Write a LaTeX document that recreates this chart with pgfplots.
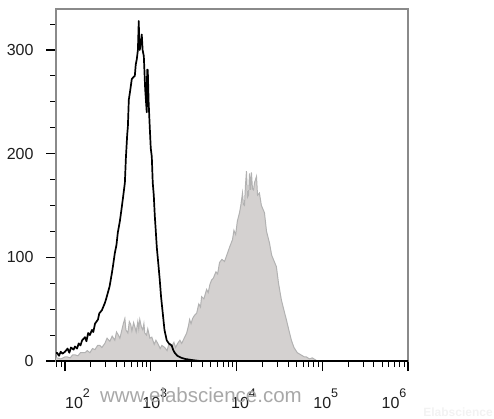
\documentclass[border=0pt]{standalone}
\usepackage{pgfplots}
\pgfplotsset{compat=1.18}
\usepackage{pgfplotstable}
\usepackage{fontspec}
\setmainfont{Liberation Sans}
\definecolor{histfill}{HTML}{D4D1D0}
\definecolor{histline}{HTML}{B2B2B2}
\definecolor{framegray}{HTML}{8A8A8A}
\definecolor{wm}{HTML}{A8A8A8}
\definecolor{lab}{HTML}{1E1E1E}
\newcommand{\pw}[1]{10\raisebox{11pt}{\fontsize{12.5}{13}\selectfont #1}}

\pgfplotstableread{
e c
1.85 6
1.907 8
1.93 5
1.95 9
1.97 7
2.0 9
2.03 12
2.05 8
2.07 13
2.10 11
2.116 14
2.14 12
2.16 17
2.18 15
2.20 20
2.233 23
2.25 19
2.27 27
2.29 25
2.314 30
2.33 28
2.35 36
2.384 40
2.40 46
2.43 49
2.465 56
2.48 60
2.50 66
2.52 72
2.547 85
2.56 92
2.581 104
2.60 112
2.616 124
2.64 135
2.663 149
2.68 160
2.698 172
2.71 196
2.725 218
2.733 226
2.744 252
2.755 258
2.779 272
2.80 274
2.814 275
2.825 286
2.837 291
2.85 300
2.860 328
2.866 305
2.872 300
2.885 308
2.895 315
2.905 300
2.919 294
2.935 262
2.953 240
2.958 281
2.965 281
2.975 250
2.988 226
3.0 205
3.012 197
3.023 172
3.035 160
3.047 140
3.058 126
3.070 110
3.09 92
3.105 78
3.12 62
3.140 46
3.16 30
3.186 20
3.21 17
3.244 15
3.26 11
3.279 8
3.31 5
3.36 3
3.40 2
3.477 1
3.57 0
6.1 0
}\blackdata

\pgfplotstableread{
e c
1.85 3
1.907 3
1.95 2
2.0 4
2.023 4
2.06 3
2.09 6
2.116 6
2.15 5
2.18 8
2.233 8
2.26 10
2.29 8
2.32 12
2.349 11
2.38 15
2.407 15
2.43 13
2.465 17
2.49 22
2.523 19
2.55 24
2.581 20
2.60 28
2.616 26
2.64 22
2.663 30
2.68 36
2.698 41
2.71 30
2.733 27
2.75 38
2.767 35
2.78 29
2.80 37
2.814 33
2.83 28
2.849 38
2.86 31
2.872 40
2.89 33
2.907 30
2.92 36
2.930 27
2.95 25
2.965 31
2.99 22
3.012 23
3.04 16
3.06 20
3.081 17
3.11 12
3.13 15
3.163 13
3.19 10
3.21 16
3.244 14
3.27 18
3.29 13
3.314 17
3.34 20
3.36 17
3.39 22
3.419 27
3.44 34
3.453 40
3.47 36
3.488 41
3.51 44
3.535 46
3.56 55
3.58 52
3.593 62
3.62 60
3.651 69
3.67 66
3.69 74
3.709 78
3.73 80
3.76 86
3.78 84
3.802 95
3.83 98
3.86 96
3.895 104
3.92 110
3.953 117
3.97 126
3.99 122
4.01 135
4.035 143
4.05 150
4.070 162
4.08 151
4.093 150
4.105 170
4.116 183
4.128 158
4.140 160
4.152 181
4.163 165
4.174 182
4.186 166
4.198 165
4.21 172
4.233 178
4.245 160
4.267 162
4.29 150
4.326 143
4.35 125
4.384 114
4.41 102
4.44 96
4.465 91
4.49 75
4.523 59
4.55 50
4.581 40
4.61 30
4.640 20
4.67 13
4.709 8
4.75 6
4.79 4
4.814 4
4.85 2
4.884 3
4.942 0
6.1 0
}\graydata

\begin{document}
\begin{tikzpicture}
\path[use as bounding box] (0,0) rectangle (494pt,418pt);
\begin{axis}[
  at={(56pt,57pt)}, anchor=south west,
  scale only axis, width=352pt, height=352pt,
  xmode=log, log basis x=10,
  xmin=78.5, xmax=1e6, ymin=0, ymax=339.5,
  xtick={1e2,1e3,1e4,1e5,1e6},
  xticklabels={\hspace*{25pt}\pw{2},\hspace*{8pt}\pw{3},\hspace*{14pt}\pw{4},\hspace*{7pt}\pw{5},\pw{6}\hspace*{28pt}},
  minor xtick={80,90,200,300,400,500,600,700,800,900,2e3,3e3,4e3,5e3,6e3,7e3,8e3,9e3,2e4,3e4,4e4,5e4,6e4,7e4,8e4,9e4,2e5,3e5,4e5,5e5,6e5,7e5,8e5,9e5},
  ytick={0,100,200,300},
  minor ytick={25,50,75,125,150,175,225,250,275,325},
  tick align=outside,
  xtick pos=bottom, ytick pos=left,
  major tick length=10pt, minor tick length=6pt,
  every tick/.style={black, line width=1.2pt},
  minor tick style={black, line width=1pt},
  axis line style={framegray, line width=1.3pt},
  ticklabel style={font=\fontsize{16}{19}\selectfont, text=lab},
  xticklabel style={yshift=-14pt},
  yticklabel style={xshift=-9pt},
  /pgf/number format/assume math mode=true,
  clip=true,
]
\addplot[fill=histfill, draw=histline, line width=1pt] table[x expr=10^\thisrow{e}, y=c] {\graydata} \closedcycle;
\addplot[black, line width=1.7pt, line join=round] table[x expr=10^\thisrow{e}, y=c] {\blackdata};
\draw[black, line width=1.8pt] (rel axis cs:0,0) -- (rel axis cs:1,0);
\end{axis}
\node[wm, font=\fontsize{20.5}{24}\selectfont, anchor=base] at (201pt,16pt) {www.elabscience.com};
\node[color=black!5, font=\bfseries\fontsize{12}{13}\selectfont, anchor=base] at (458pt,2pt) {Elabscience};
\end{tikzpicture}
\end{document}
